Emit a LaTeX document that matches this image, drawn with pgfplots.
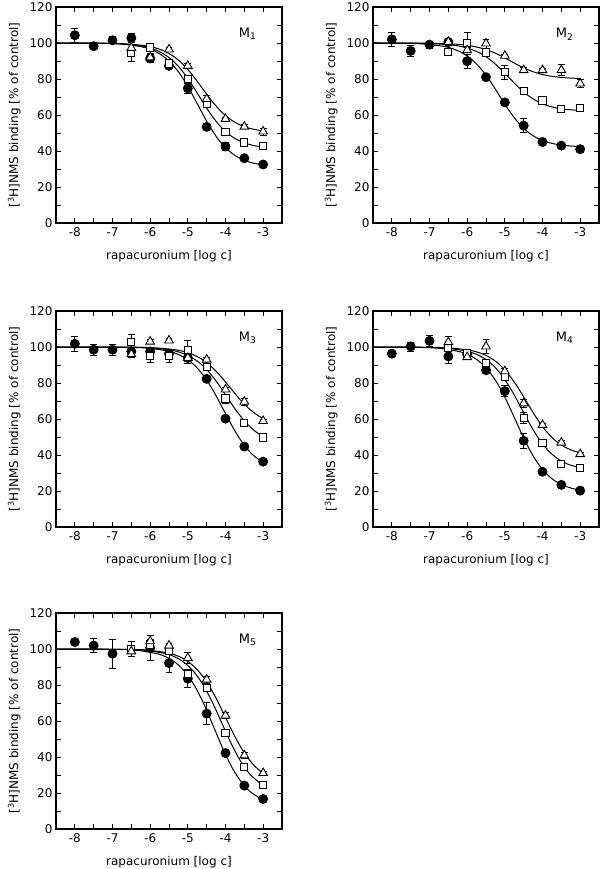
\documentclass[border=0pt]{standalone}
\usepackage{fontspec}
\setmainfont{DejaVu Sans}
\usepackage{pgfplots}
\pgfplotsset{compat=1.18}
\pgfplotsset{
 panel/.style={
  width=226pt, height=216pt, scale only axis,
  anchor=south west,
  xmin=-8.5, xmax=-2.5, ymin=0, ymax=120,
  xtick={-8,-7,-6,-5,-4,-3}, xticklabels={-8,-7,-6,-5,-4,-3},
  ytick={0,20,40,60,80,100,120}, yticklabels={0,20,40,60,80,100,120},
  minor x tick num=1, minor y tick num=1,
  tick align=inside, major tick length=5pt, minor tick length=5pt,
  every tick/.style={black, line width=0.9pt},
  axis line style={line width=1.2pt},
  ticklabel style={font=\fontsize{12}{14}\selectfont},
  xticklabel style={yshift=-1.5pt},
  label style={font=\fontsize{12}{14}\selectfont},
  ylabel style={yshift=2pt},
  xlabel style={yshift=-6pt},
  xlabel={rapacuronium [log c]},
  ylabel={[\textsuperscript{3}H]NMS binding [\% of control]},
  clip=false,
 },
 fit/.style={black, line width=1pt, smooth, no marks},
 dat/.style={only marks, black, line width=0.9pt,
   error bars/y dir=both, error bars/y explicit,
   error bars/error bar style={line width=0.8pt, black},
   error bars/error mark options={rotate=90, mark size=3.4pt, line width=0.8pt, black}},
 circ/.style={dat, mark=*, mark size=4.5pt, mark options={fill=black, draw=black}},
 sq/.style={dat, mark=square*, mark size=3.6pt, mark options={fill=white, draw=black, line width=0.9pt}},
 tri/.style={dat, mark=triangle*, mark size=5pt, mark options={fill=white, draw=black, line width=0.9pt}},
}
\newcommand{\mlab}[2]{\node[anchor=west, inner sep=0pt, font=\fontsize{13}{15}\selectfont] at (axis cs:-3.65,#2) {M\textsubscript{#1}};}
\begin{document}
\begin{tikzpicture}
\useasboundingbox (0,0) rectangle (600pt,869pt);
% ---------------- M1
\begin{axis}[panel, at={(56pt,646pt)}]
\addplot[fit] coordinates {(-8.5,100) (-7.23,99.78) (-6.73,99.32) (-6.23,97.88) (-5.98,96.33) (-5.73,93.73) (-5.48,89.58) (-5.23,83.42) (-4.98,75.17) (-4.73,65.5) (-4.48,55.83) (-4.23,47.58) (-3.98,41.42) (-3.73,37.27) (-3.48,34.67) (-3.23,33.12) (-3,32.26)};
\addplot[fit] coordinates {(-8.5,100) (-7.2,99.81) (-6.7,99.42) (-6.2,98.19) (-5.95,96.86) (-5.7,94.64) (-5.45,91.09) (-5.2,85.82) (-4.95,78.77) (-4.7,70.5) (-4.45,62.23) (-4.2,55.18) (-3.95,49.91) (-3.7,46.36) (-3.45,44.14) (-3.2,42.81) (-3,42.16)};
\addplot[fit] coordinates {(-8.5,100) (-7.12,99.84) (-6.62,99.5) (-6.12,98.47) (-5.87,97.34) (-5.62,95.46) (-5.37,92.45) (-5.12,87.99) (-4.87,82.0) (-4.62,75) (-4.37,68.0) (-4.12,62.02) (-3.87,57.55) (-3.62,54.55) (-3.37,52.66) (-3.12,51.54) (-3,51.17)};
\addplot[circ] table[x index=0, y index=1, y error index=2] {
-8 104.3 4
-7.5 98.2 1
-7 101.5 2
-6.5 102.8 2.5
-6 91.4 2
-5.5 87.3 1.5
-5 74.8 3
-4.5 53.4 1.5
-4 42.5 2
-3.5 36 1
-3 32.5 1
};
\addplot[sq] table[x index=0, y index=1, y error index=2] {
-6.5 94.5 4.5
-6 97.5 1
-5.5 88.6 1.5
-5 79.8 2
-4.5 66.1 1.5
-4 50.4 1.5
-3.5 44.7 1
-3 42.8 1
};
\addplot[tri] table[x index=0, y index=1, y error index=2] {
-6.5 97.3 2
-6 92 2
-5.5 96.4 1
-5 87.3 1.5
-4.5 68.9 2
-4 57.8 1
-3.5 53.5 1
-3 50.8 2
};
\mlab{1}{105}
\end{axis}
% ---------------- M2
\begin{axis}[panel, at={(373pt,646pt)}]
\addplot[fit] coordinates {(-8.5,100) (-7.65,99.81) (-7.15,99.43) (-6.65,98.22) (-6.4,96.91) (-6.15,94.73) (-5.9,91.24) (-5.65,86.06) (-5.4,79.13) (-5.15,71) (-4.9,62.87) (-4.65,55.94) (-4.4,50.76) (-4.15,47.27) (-3.9,45.09) (-3.65,43.78) (-3.4,43.02) (-3,42.41)};
\addplot[fit] coordinates {(-8.5,100) (-7.4,99.88) (-6.9,99.62) (-6.4,98.83) (-6.15,97.98) (-5.9,96.55) (-5.65,94.26) (-5.4,90.87) (-5.15,86.32) (-4.9,81) (-4.65,75.68) (-4.4,71.13) (-4.15,67.74) (-3.9,65.45) (-3.65,64.02) (-3.4,63.17) (-3,62.47)};
\addplot[fit] coordinates {(-8.5,100) (-7.35,99.94) (-6.85,99.8) (-6.35,99.39) (-6.1,98.94) (-5.85,98.18) (-5.6,96.98) (-5.35,95.19) (-5.1,92.8) (-4.85,90) (-4.6,87.2) (-4.35,84.81) (-4.1,83.02) (-3.85,81.82) (-3.6,81.06) (-3.35,80.61) (-3,80.28)};
\addplot[circ] table[x index=0, y index=1, y error index=2] {
-8 102 4
-7.5 95.6 3
-7 99.1 2
-6.5 100.5 1
-6 89.9 4
-5.5 81 2
-5 67 1
-4.5 54.1 4
-4 45 1
-3.5 43 1
-3 41 1
};
\addplot[sq] table[x index=0, y index=1, y error index=2] {
-6.5 95 1
-6 100.2 5.5
-5.5 94.7 1.5
-5 83.8 4
-4.5 73.5 1
-4 68.1 1
-3.5 63.3 2
-3 63.7 1
};
\addplot[tri] table[x index=0, y index=1, y error index=2] {
-6.5 100.6 1
-6 96 1.5
-5.5 99.7 2.5
-5 92.9 1
-4.5 84.9 1.5
-4 84.9 1
-3.5 84.9 3
-3 77.5 2
};
\mlab{2}{105}
\end{axis}
% ---------------- M3
\begin{axis}[panel, at={(56pt,342pt)}]
\addplot[fit] coordinates {(-8.5,100) (-6.55,99.78) (-6.05,99.31) (-5.55,97.85) (-5.3,96.28) (-5.05,93.64) (-4.8,89.43) (-4.55,83.18) (-4.3,74.81) (-4.05,65) (-3.8,55.19) (-3.55,46.82) (-3.3,40.57) (-3,35.73)};
\addplot[fit] coordinates {(-8.5,100) (-6.47,99.82) (-5.97,99.46) (-5.47,98.31) (-5.22,97.07) (-4.97,95.0) (-4.72,91.7) (-4.47,86.78) (-4.22,80.21) (-3.97,72.5) (-3.72,64.79) (-3.47,58.22) (-3.22,53.31) (-3,50.32)};
\addplot[fit] coordinates {(-8.5,100) (-6.38,99.86) (-5.88,99.55) (-5.38,98.62) (-5.13,97.61) (-4.88,95.91) (-4.63,93.21) (-4.38,89.19) (-4.13,83.80) (-3.88,77.5) (-3.63,71.2) (-3.38,65.81) (-3.13,61.8) (-3,60.24)};
\addplot[circ] table[x index=0, y index=1, y error index=2] {
-8 101.8 4
-7.5 98.5 3
-7 98.5 3
-6.5 97.5 1
-6 97.5 1
-5.5 96.3 1
-5 93.9 3
-4.5 82.3 1.5
-4 60.2 1
-3.5 44.7 1
-3 36.3 1
};
\addplot[sq] table[x index=0, y index=1, y error index=2] {
-6.5 103 4
-6 95.2 3.5
-5.5 95.2 3.5
-5 98.5 5
-4.5 88.7 1.5
-4 71.4 2.5
-3.5 58 1
-3 49.7 1
};
\addplot[tri] table[x index=0, y index=1, y error index=2] {
-6.5 96 2
-6 103 1
-5.5 103.6 1
-5 93.9 2
-4.5 93 1
-4 76.4 1
-3.5 69.6 2
-3 58.9 1
};
\mlab{3}{105}
\end{axis}
% ---------------- M4
\begin{axis}[panel, at={(373pt,342pt)}]
\addplot[fit] coordinates {(-8.5,100) (-7.22,99.74) (-6.72,99.2) (-6.22,97.51) (-5.97,95.69) (-5.72,92.64) (-5.47,87.77) (-5.22,80.54) (-4.97,70.85) (-4.72,59.5) (-4.47,48.15) (-4.22,38.46) (-3.97,31.23) (-3.72,26.36) (-3.47,23.31) (-3.22,21.49) (-3,20.51)};
\addplot[fit] coordinates {(-8.5,100) (-7.05,99.78) (-6.55,99.32) (-6.05,97.88) (-5.8,96.33) (-5.55,93.73) (-5.3,89.58) (-5.05,83.42) (-4.8,75.17) (-4.55,65.5) (-4.3,55.83) (-4.05,47.58) (-3.8,41.42) (-3.55,37.27) (-3.3,34.67) (-3,32.89)};
\addplot[fit] coordinates {(-8.5,100) (-6.92,99.8) (-6.42,99.4) (-5.92,98.13) (-5.67,96.75) (-5.42,94.46) (-5.17,90.79) (-4.92,85.34) (-4.67,78.05) (-4.42,69.5) (-4.17,60.95) (-3.92,53.66) (-3.67,48.21) (-3.42,44.54) (-3.17,42.25) (-3,41.23)};
\addplot[circ] table[x index=0, y index=1, y error index=2] {
-8 96.3 1
-7.5 100.3 2.5
-7 103.4 3
-6.5 94.8 4
-6 96 1
-5.5 87.1 2
-5 75.5 3
-4.5 47.9 4
-4 30.7 1
-3.5 23.4 1
-3 20.2 1
};
\addplot[sq] table[x index=0, y index=1, y error index=2] {
-6.5 99.4 1
-6 96.6 1
-5.5 91.1 1.5
-5 83.4 2
-4.5 60.4 3
-4 46.9 1
-3.5 35 1
-3 32.8 1.5
};
\addplot[tri] table[x index=0, y index=1, y error index=2] {
-6.5 102.7 3
-6 94.4 1
-5.5 100.3 4
-5 86.5 1.5
-4.5 68.7 2
-4 56.7 1
-3.5 46.9 1
-3 40.5 1
};
\mlab{4}{105}
\end{axis}
% ---------------- M5
\begin{axis}[panel, at={(56pt,40pt)}]
\addplot[fit] coordinates {(-8.5,100) (-6.8,99.72) (-6.3,99.13) (-5.8,97.3) (-5.55,95.32) (-5.3,92.0) (-5.05,86.71) (-4.8,78.85) (-4.55,68.33) (-4.3,56) (-4.05,43.67) (-3.8,33.15) (-3.55,25.29) (-3.3,20.0) (-3,16.2)};
\addplot[fit] coordinates {(-8.5,100) (-6.6,99.74) (-6.1,99.19) (-5.6,97.48) (-5.35,95.64) (-5.1,92.55) (-4.85,87.62) (-4.6,80.3) (-4.35,70.49) (-4.1,59) (-3.85,47.51) (-3.6,37.7) (-3.35,30.38) (-3,24.04)};
\addplot[fit] coordinates {(-8.5,100) (-6.5,99.76) (-6.0,99.25) (-5.5,97.67) (-5.25,95.96) (-5.0,93.09) (-4.75,88.52) (-4.5,81.74) (-4.25,72.65) (-4.0,62) (-3.75,51.35) (-3.5,42.26) (-3.25,35.48) (-3,30.91)};
\addplot[circ] table[x index=0, y index=1, y error index=2] {
-8 103.9 1
-7.5 101.9 4
-7 97.4 8
-6 100.6 7
-5.5 92.2 5
-5 83.5 5
-4.5 64.1 6
-4 42.2 1
-3.5 24.1 1
-3 16.7 1
};
\addplot[sq] table[x index=0, y index=1, y error index=2] {
-6.5 100 4
-6 102.5 3
-5.5 98.7 1.5
-5 86.1 2
-4.5 78.3 2
-4 53.3 1
-3.5 34.3 1
-3 24.3 1
};
\addplot[tri] table[x index=0, y index=1, y error index=2] {
-6.5 98.7 3
-6 104.3 3
-5.5 101.9 1
-5 95 3
-4.5 83 2
-4 63 1.5
-3.5 40.9 1.5
-3 31.1 1
};
\mlab{5}{105}
\end{axis}
\end{tikzpicture}
\end{document}
